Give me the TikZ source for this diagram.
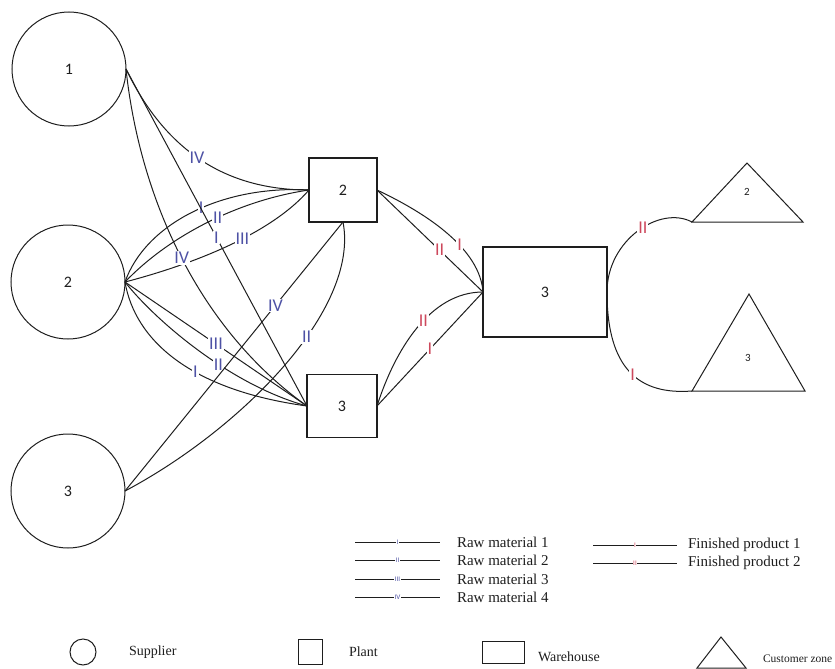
\documentclass[tikz,border=0pt]{standalone}
\usepackage{fontspec}
\setmainfont{Liberation Serif}
\newfontfamily\numfont{Carlito}
\usetikzlibrary{positioning}
\definecolor{rawcol}{RGB}{78,82,165}
\definecolor{fincol}{RGB}{205,72,92}
\definecolor{ink}{RGB}{30,30,30}

\begin{document}
\begin{tikzpicture}[x=1pt, y=-1pt, line width=1pt, color=ink,
  every node/.style={inner sep=0pt, outer sep=0pt},
  sup/.style={draw, circle, minimum size=114pt, font=\numfont\fontsize{16}{16}\selectfont},
  plant/.style={draw, line width=1.3pt, minimum width=68pt, minimum height=64pt, font=\numfont\fontsize{16}{16}\selectfont},
  wh/.style={plant, minimum width=124pt, minimum height=90pt},
  cz/.style={font=\numfont\fontsize{11}{11}\selectfont},
  rm/.style={fill=white, inner sep=1pt, text=rawcol, font=\numfont\fontsize{18}{18}\selectfont},
  fp/.style={rm, text=fincol},
  tick/.style={fill=white, inner sep=0.6pt, font=\numfont\fontsize{7}{7}\selectfont},
  key/.style={anchor=west, font=\fontsize{15}{15}\selectfont},
  keyb/.style={key, font=\fontsize{14}{14}\selectfont},
  sym/.style={draw, line width=1pt}]
\useasboundingbox (0,0) rectangle (835,669);

\node[sup] (s1) at (69,69) {1};
\node[sup] (s2) at (68,282) {2};
\node[sup] (s3) at (68,491) {3};
\node[plant] (p2) at (343,190) {2};
\node[plant, minimum width=70pt, minimum height=63pt] (p3) at (342,406) {3};
\node[wh] (w3) at (545,292) {3};
\draw (692,222) coordinate (c2l) -- (747,163) -- (803,222) -- cycle;
\node[cz] (c2) at (747,192) {2};
\draw (692,391) coordinate (c3l) -- (749,294) -- (805,391) -- cycle;
\node[cz] (c3) at (748,358) {3};

% raw materials: suppliers to plants
\draw (s2.east) .. controls (145,225) and (220,185) .. (p2.west) node[rm, pos=0.55] {I};
\draw (s2.east) .. controls (170,235) and (240,200) .. (p2.west) node[rm, pos=0.55] {II};
\draw (s2.east) .. controls (190,265) and (270,235) .. (p2.west) node[rm, pos=0.58] {III};
\draw (s2.east) -- (p3.west) node[rm, pos=0.5] {III};
\draw (s2.east) .. controls (155,320) and (230,385) .. (p3.west) node[rm, pos=0.6] {II};
\draw (s2.east) .. controls (135,340) and (190,390) .. (p3.west) node[rm, pos=0.6] {I};
\draw (s1.east) .. controls (165,150) and (225,190) .. (p2.west) node[rm, pos=0.48] {IV};
\draw (s1.east) -- (p3.west) node[rm, pos=0.5] {I};
\draw (s1.east) .. controls (140,200) and (200,330) .. (p3.west) node[rm, pos=0.5] {IV};
\draw (s3.east) -- (p2.south) node[rm, pos=0.69] {IV};
\draw (s3.east) .. controls (240,430) and (360,310) .. (p2.south) node[rm, pos=0.6] {II};

% finished products: plants to warehouse to customer zones
\draw (p2.east) .. controls (430,215) and (480,250) .. (w3.west) node[fp, pos=0.6] {I};
\draw (p2.east) -- (w3.west) node[fp, pos=0.59] {II};
\draw (p3.east) .. controls (395,350) and (430,292) .. (w3.west) node[fp, pos=0.56] {II};
\draw (p3.east) -- (w3.west) node[fp, pos=0.5] {I};
\draw (w3.east) .. controls (607,240) and (660,205) .. (c2l) node[fp, pos=0.55] {II};
\draw (w3.east) .. controls (607,370) and (640,395) .. (c3l) node[fp, pos=0.53] {I};

% legend
\foreach \y/\n/\r in {542/1/I,560/2/II,579/3/III,597/4/IV}{
  \node[key] (raw\n) at (457,\y) {Raw material \n};
  \draw (355,\y) coordinate (rawa\n) -- (440,\y) node[tick, text=rawcol, pos=0.5] {\r};
}
\foreach \y/\n/\r in {545/1/I,563/2/II}{
  \node[key] (fin\n) at (688,\y) {Finished product \n};
  \draw (593,\y) coordinate (fina\n) -- (677,\y) node[tick, text=fincol, pos=0.5] {\r};
}
\node[sym, circle, minimum size=26pt] (ksup) at (83,652) {};
\node[keyb, right=33pt of ksup] (ksupt) {Supplier};
\node[sym, minimum width=24pt, minimum height=25pt] (kpl) at (310,652) {};
\node[keyb, right=27pt of kpl] (kplt) {Plant};
\node[sym, minimum width=42pt, minimum height=22pt] (kwh) at (503,652) {};
\node[keyb, right=14pt of kwh, yshift=-5pt] (kwht) {Warehouse};
\draw (697,668) coordinate (kcz) -- (721,637) -- (746,668) -- cycle;
\node[keyb, font=\fontsize{11.5}{11.5}\selectfont] (kczt) at (763,659) {Customer zone};
\end{tikzpicture}
\end{document}
